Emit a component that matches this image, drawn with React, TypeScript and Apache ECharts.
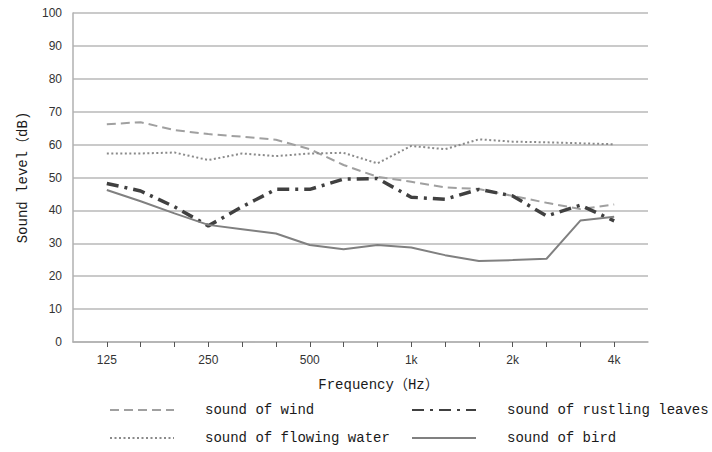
import React, { useEffect, useRef } from "react";
import * as echarts from "echarts";

const categories = ["", "125", "160", "200", "250", "315", "400", "500", "630", "800", "1k", "1.25k", "1.6k", "2k", "2.5k", "3.15k", "4k", " "];
const shownLabels = ["125", "250", "500", "1k", "2k", "4k"];
const yTicks = { min: 0, max: 100, interval: 10 };

const windValues = [66.2, 66.8, 64.4, 63.2, 62.4, 61.5, 58.6, 53.8, 50.2, 48.7, 47, 46.5, 44.4, 42.3, 40.4, 41.8];
const waterValues = [57.3, 57.3, 57.6, 55.3, 57.3, 56.5, 57.3, 57.5, 54.3, 59.6, 58.6, 61.6, 60.9, 60.7, 60.4, 60.1];
const leavesValues = [48.2, 45.9, 41.1, 35.3, 41.1, 46.4, 46.4, 49.5, 49.7, 44, 43.4, 46.4, 44.4, 38.3, 41.6, 36.8];
const birdValues = [46.2, 42.8, 39.1, 35.6, 34.3, 33, 29.5, 28.2, 29.5, 28.7, 26.4, 24.6, 24.9, 25.3, 36.9, 38.1];

const seriesNames = ["sound of wind", "sound of flowing water", "sound of rustling leaves", "sound of bird"];

const pad = (arr: number[]) => [null, ...arr, null];

const MONO = '"Liberation Mono", "Noto Sans CJK SC", monospace';

export default function App() {
  const ref = useRef<HTMLDivElement>(null);
  useEffect(() => {
    if (!ref.current) return;
    const chart = echarts.init(ref.current, undefined, { renderer: "svg" });
    const legendCommon = {
      orient: "vertical" as const,
      itemWidth: 64,
      itemHeight: 14,
      itemGap: 14,
      itemStyle: { opacity: 0 },
      textStyle: { fontFamily: MONO, fontSize: 14, color: "#1a1a1a", padding: [0, 0, 0, 26] },
    };
    chart.setOption({
      animation: false,
      backgroundColor: "#fff",
      grid: { left: 73, right: 64, top: 13, bottom: 110, containLabel: false },
      legend: [
        { ...legendCommon, left: 104, top: 398, data: [seriesNames[0], seriesNames[1]] },
        { ...legendCommon, left: 406, top: 398, data: [seriesNames[2], seriesNames[3]] },
      ],
      xAxis: {
        type: "category",
        data: categories,
        boundaryGap: false,
        name: "Frequency（Hz）",
        nameLocation: "middle",
        nameGap: 36,
        nameTextStyle: { fontFamily: MONO, fontSize: 14, color: "#1a1a1a", padding: [0, 0, 0, 36] },
        axisLine: { lineStyle: { color: "#b0b0b0", width: 1.5 } },
        axisTick: {
          show: true,
          length: 5,
          lineStyle: { color: "#555", width: 1 },
          interval: (i: number) => i > 0 && i < categories.length - 1,
        },
        axisLabel: {
          interval: (i: number, v: string) => shownLabels.includes(v),
          fontFamily: '"Liberation Sans", Arial, sans-serif',
          fontSize: 12,
          color: "#333",
          margin: 12,
        },
        splitLine: { show: false },
      },
      yAxis: {
        type: "value",
        min: yTicks.min,
        max: yTicks.max,
        interval: yTicks.interval,
        name: "Sound level（dB)",
        nameLocation: "middle",
        nameGap: 43,
        nameTextStyle: { fontFamily: MONO, fontSize: 14, color: "#1a1a1a" },
        axisLine: { show: true, lineStyle: { color: "#b0b0b0", width: 1.5 } },
        axisTick: { show: false },
        axisLabel: {
          fontFamily: '"Liberation Sans", Arial, sans-serif',
          fontSize: 12,
          color: "#333",
          margin: 11,
        },
        splitLine: { lineStyle: { color: "#b8b8b8", width: 1.5 } },
      },
      series: [
        {
          name: seriesNames[0],
          type: "line",
          data: pad(windValues),
          symbol: "none",
          lineStyle: { color: "#a0a0a0", width: 2, type: [9, 5] },
          itemStyle: { color: "#a0a0a0" },
        },
        {
          name: seriesNames[1],
          type: "line",
          data: pad(waterValues),
          symbol: "none",
          lineStyle: { color: "#8a8a8a", width: 2, type: [2, 2.5] },
          itemStyle: { color: "#8a8a8a" },
        },
        {
          name: seriesNames[2],
          type: "line",
          data: pad(leavesValues),
          symbol: "none",
          lineStyle: { color: "#404040", width: 3.5, type: [12, 6, 3, 6] },
          itemStyle: { color: "#404040" },
        },
        {
          name: seriesNames[3],
          type: "line",
          data: pad(birdValues),
          symbol: "none",
          lineStyle: { color: "#808080", width: 2, type: "solid" },
          itemStyle: { color: "#808080" },
        },
      ],
    });
    return () => chart.dispose();
  }, []);
  return <div ref={ref} style={{ width: 712, height: 452, position: "absolute", left: 0, top: 0 }} />;
}
